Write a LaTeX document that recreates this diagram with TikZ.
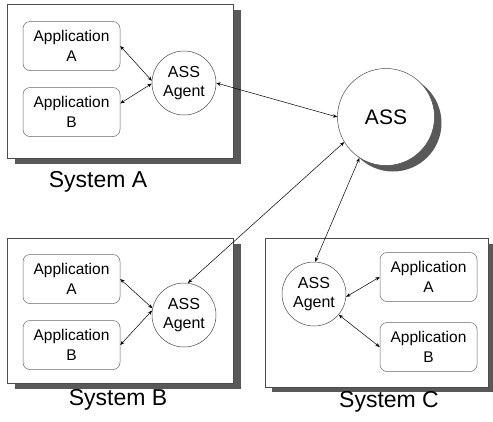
\documentclass[tikz,border=0pt]{standalone}
\usepackage{fontspec}
\setmainfont{Liberation Sans}
\usetikzlibrary{arrows.meta}
\begin{document}
\begin{tikzpicture}[x=1pt,y=-1pt,
  sysbox/.style={draw=black!70,line width=0.5pt,fill=white},
  shadowfill/.style={fill=black!65},
  appbox/.style={draw=black!60,line width=0.5pt,rounded corners=7pt,fill=white,
    minimum width=97pt,minimum height=49pt,align=center,inner sep=0pt,
    font=\fontsize{15.5}{19.5}\selectfont},
  agent/.style={circle,draw=black!70,line width=0.5pt,fill=white,minimum size=64pt,
    inner sep=0pt,align=center,font=\fontsize{16}{18.5}\selectfont},
  syslabel/.style={font=\fontsize{23}{26}\selectfont,inner sep=0pt},
  link/.style={draw=black,line width=0.5pt,{Stealth[length=4.5pt,width=3.5pt]}-{Stealth[length=4.5pt,width=3.5pt]}}]
\useasboundingbox (0,0) rectangle (493,421);
% System A
\fill[shadowfill] (15,10) rectangle (241,164);
\draw[sysbox] (7,4) rectangle (233,158);
% System B
\fill[shadowfill] (15,244) rectangle (241,389);
\draw[sysbox] (7,238) rectangle (233,383);
% System C
\fill[shadowfill] (272,244) rectangle (493,392);
\draw[sysbox] (265,238) rectangle (488,387);
% ASS
\fill[shadowfill] (393,123) circle (48.5);
\node[agent,minimum size=97pt,font=\fontsize{21}{24}\selectfont] (ass) at (386,117) {ASS};
% System A content
\node[appbox] (aA) at (71.5,46) {Application\\A};
\node[appbox] (aB) at (71.5,112) {Application\\B};
\node[agent] (agA) at (184,83) {ASS\\Agent};
\node[syslabel] (lA) at (98,182) {System A};
% System B content
\node[appbox] (bA) at (71.5,279) {Application\\A};
\node[appbox] (bB) at (71.5,345) {Application\\B};
\node[agent] (agB) at (184,315) {ASS\\Agent};
\node[syslabel] (lB) at (118,400) {System B};
% System C content
\node[agent] (agC) at (314,294) {ASS\\Agent};
\node[appbox] (cA) at (428.5,277) {Application\\A};
\node[appbox] (cB) at (428.5,347) {Application\\B};
\node[syslabel] (lC) at (389,402) {System C};
% links
\draw[link] (aA.east) -- (agA.176);
\draw[link] (aB.10) -- (agA.181);
\draw[link] (agA.east) -- (ass.west);
\draw[link] (bA.east) -- (agB.168);
\draw[link] (bB.east) -- (agB.172);
\draw[link] (ass.211) -- (agB.83);
\draw[link] (ass.237) -- (agC.88);
\draw[link] (agC.-5) -- (cA.west);
\draw[link] (agC.-40) -- (cB.west);
\end{tikzpicture}
\end{document}
